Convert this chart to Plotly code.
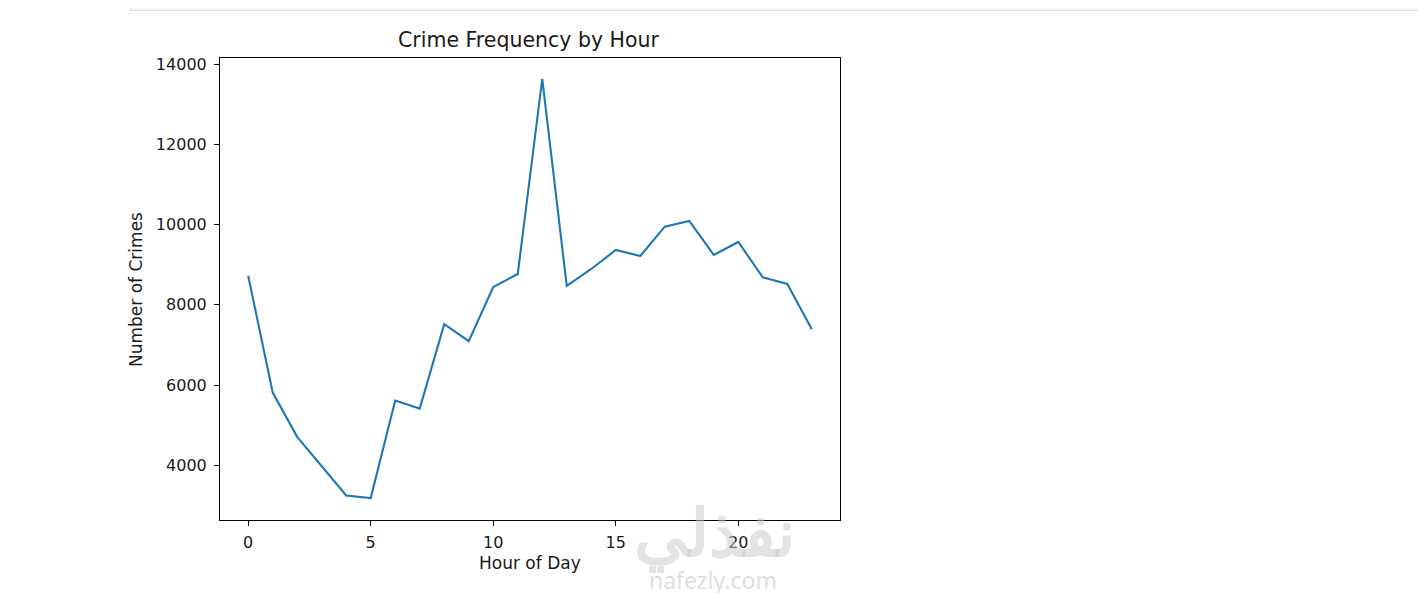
import plotly.graph_objects as go

hours = list(range(24))
crimes = [8727, 5813, 4710, 3970, 3248, 3183, 5614, 5415, 7516, 7093,
          8446, 8770, 13634, 8471, 8894, 9367, 9218, 9948, 10090, 9243,
          9567, 8687, 8521, 7392]
x_ticks = [0, 5, 10, 15, 20]
y_ticks = [4000, 6000, 8000, 10000, 12000, 14000]

# the page body has an 8px margin, so the figure is drawn 8px smaller/offset
OFF = 8
W, H = 1426 - 2 * OFF, 601 - 2 * OFF
# plot area in reference (window) pixels
RL, RR, RT, RB = 220, 840, 58, 520
L, R, T, B = RL - OFF, RR - OFF, RT - OFF, RB - OFF
FONT = "DejaVu Sans"
TXT = "#1a1a1a"

fig = go.Figure()
fig.add_trace(go.Scatter(x=hours, y=crimes, mode="lines",
                         line=dict(color="#1f77b4", width=2.1),
                         showlegend=False, hoverinfo="x+y"))

axis_common = dict(showgrid=False, zeroline=False, showline=True, mirror=True,
                   linecolor="#000000", linewidth=1.1, ticks="outside",
                   ticklen=5, tickwidth=1.1, tickcolor="#000000",
                   tickfont=dict(family=FONT, size=16, color=TXT))

fig.update_xaxes(range=[-1.15, 24.15], tickvals=x_ticks, tickformat="d",
                 ticklabelstandoff=3, **axis_common)
fig.update_yaxes(range=[2637, 14153], tickvals=y_ticks, tickformat="d",
                 ticklabelstandoff=4, **axis_common)

def px(x):
    # window pixel x -> plot-area paper fraction
    return ((x - OFF) - L) / (R - L)

def py(y):
    return (B - (y - OFF)) / (B - T)

fig.update_layout(
    width=W, height=H,
    margin=dict(l=L, r=W - R, t=T, b=H - B, pad=0),
    paper_bgcolor="white", plot_bgcolor="white",
    font=dict(family=FONT, color=TXT),
    shapes=[dict(type="rect", xref="paper", yref="paper",
                 x0=px(130), x1=px(1440), y0=py(10.5), y1=py(-5),
                 fillcolor="#f5f5f5", line=dict(color="#dcdcdc", width=1),
                 layer="below")],
    annotations=[
        dict(text="Crime Frequency by Hour", xref="paper", yref="paper",
             x=px(529), y=py(40), showarrow=False, xanchor="center", yanchor="middle",
             font=dict(family=FONT, size=20.5, color=TXT)),
        dict(text="Hour of Day", xref="paper", yref="paper",
             x=px(530), y=py(563), showarrow=False, xanchor="center", yanchor="middle",
             font=dict(family=FONT, size=17, color=TXT)),
        dict(text="Number of Crimes", xref="paper", yref="paper",
             x=px(136), y=py(289), showarrow=False, xanchor="center", yanchor="middle",
             textangle=-90, font=dict(family=FONT, size=17, color=TXT)),
        dict(text="<b>نفذلي</b>", xref="paper", yref="paper",
             x=px(714), y=py(530), showarrow=False, xanchor="center", yanchor="middle",
             font=dict(family="Noto Sans", size=66, color="rgba(200,200,200,0.5)")),
        dict(text="nafezly.com", xref="paper", yref="paper",
             x=px(713), y=py(580), showarrow=False, xanchor="center", yanchor="middle",
             font=dict(family="Noto Sans", size=23, color="rgba(200,200,200,0.6)")),
    ],
)

fig.write_html("out.html")
